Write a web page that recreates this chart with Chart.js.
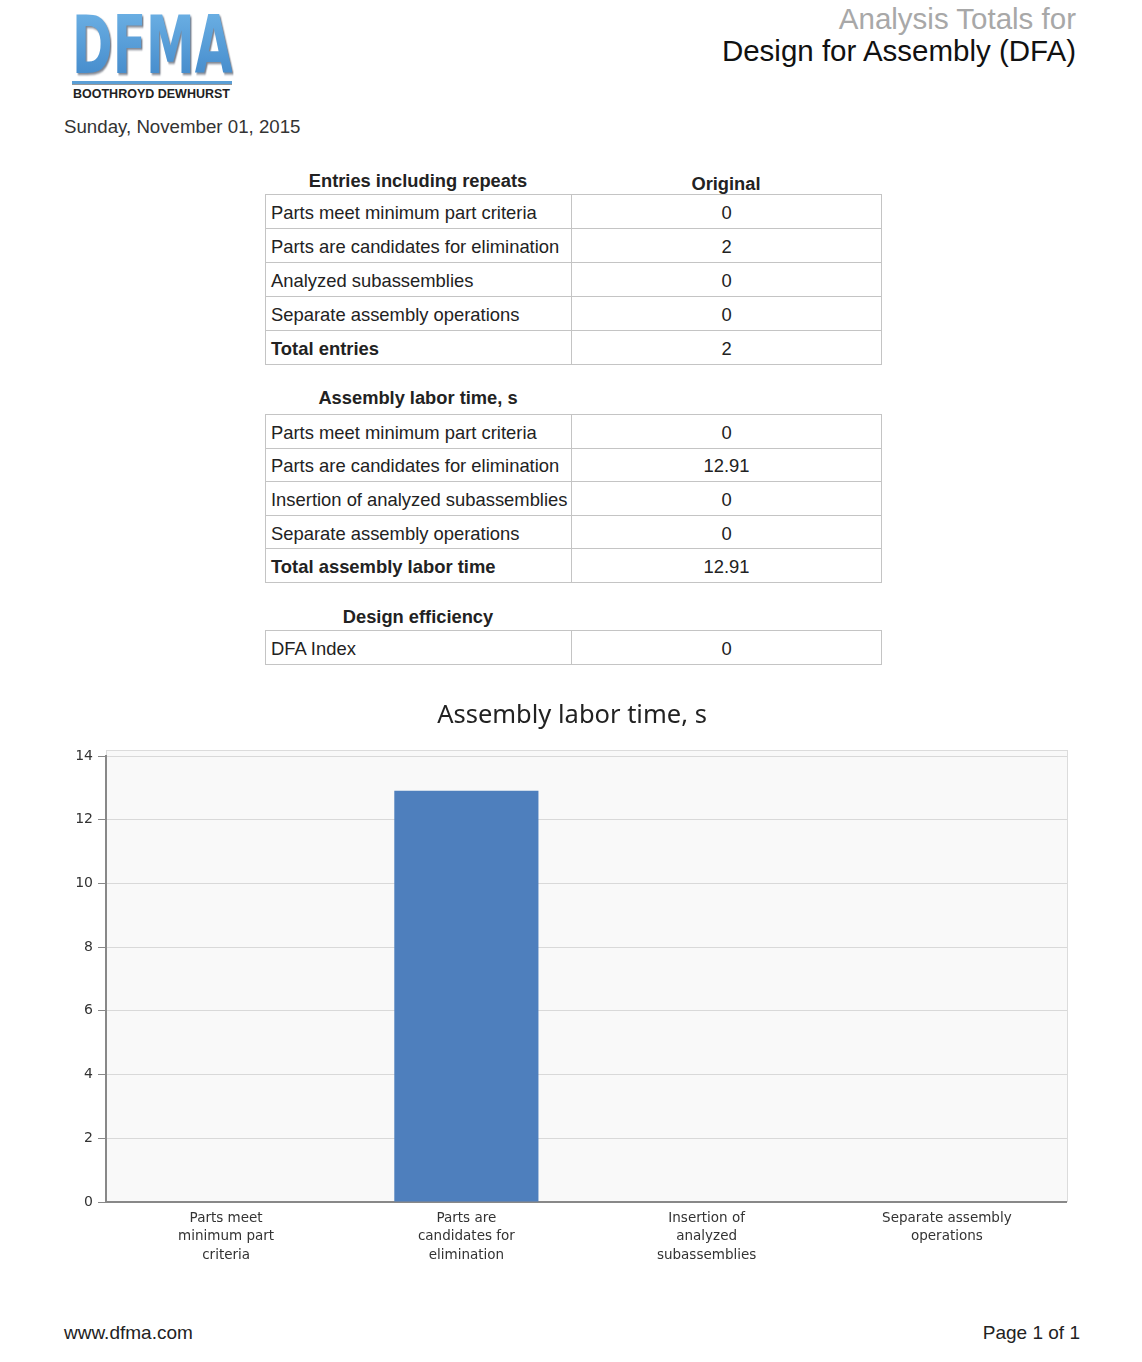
<!DOCTYPE html>
<html>
<head>
  <title>Analysis Totals for Design for Assembly (DFA)</title>
  <script src="https://cdn.jsdelivr.net/npm/chart.js"></script>
  <style>
    body { margin: 0; width: 1142px; height: 1362px; background: #fff; position: relative; overflow: hidden;
           font-family: "Liberation Sans", Arial, sans-serif; color: #222; }
    .abs { position: absolute; }
    .logo { left: 72px; top: 4px; font-family: "Liberation Sans Narrow", "DejaVu Sans Condensed", sans-serif;
            font-weight: bold; font-size: 80px; line-height: 84px; transform: scaleX(0.68); transform-origin: left top;
            background: linear-gradient(#6fb3e6, #3f86c8); -webkit-background-clip: text; background-clip: text;
            color: transparent; filter: drop-shadow(2px 2px 1px rgba(40,50,70,0.6)); }
    .logo-line { left: 72px; top: 81px; width: 160px; height: 3px; background: #5b9fd6; border-bottom: 1px solid #999; }
    .logo-sub { left: 73px; top: 86px; font-weight: bold; font-size: 12.5px; line-height: 16px; color: #222; }
    .date { left: 64px; top: 117px; font-size: 18.7px; line-height: 20px; color: #333; }
    .rt { right: 66px; text-align: right; font-size: 29.5px; line-height: 30px; white-space: nowrap; }
    .head { font-weight: bold; font-size: 18.3px; line-height: 22px; text-align: center; color: #222; }
    table { position: absolute; left: 265px; width: 616px; border-collapse: collapse; table-layout: fixed; }
    td { border: 1px solid #c4c4c4; height: 30px; padding: 3px 0 0 5px; font-size: 18.4px; color: #222;
         white-space: nowrap; overflow: visible; }
    #t2 td { height: 29.6px; }
    td.v { text-align: center; padding-left: 0; }
    td.b { font-weight: bold; }
    .plotbg { left: 106px; top: 750px; width: 960px; height: 451px; background: #f9f9f9; border: 1px solid #dcdcdc; border-bottom: none; }
    #chartBox { position: absolute; left: 77px; top: 690px; width: 990px; height: 590px; }
    .foot { top: 1323px; font-size: 19px; line-height: 20px; color: #222; }
  </style>
</head>
<body>
  <div class="abs logo">DFMA</div>
  <div class="abs logo-line"></div>
  <div class="abs logo-sub">BOOTHROYD DEWHURST</div>
  <div class="abs date">Sunday, November 01, 2015</div>
  <div class="abs rt" style="top:4px;color:#a8a8a8;">Analysis Totals for</div>
  <div class="abs rt" style="top:36px;color:#111;">Design for Assembly (DFA)</div>

  <div class="abs head" style="left:265px;width:306px;top:170px;">Entries including repeats</div>
  <div class="abs head" style="left:571px;width:310px;top:173px;">Original</div>
  <table id="t1" style="top:194px;"></table>

  <div class="abs head" style="left:265px;width:306px;top:387px;">Assembly labor time, s</div>
  <table id="t2" style="top:414px;"></table>

  <div class="abs head" style="left:265px;width:306px;top:606px;">Design efficiency</div>
  <table id="t3" style="top:630px;"></table>

  <div class="abs plotbg"></div>
  <div id="chartBox"><canvas id="laborChart"></canvas></div>

  <div class="abs foot" style="left:64px;">www.dfma.com</div>
  <div class="abs foot" style="right:62px;">Page 1 of 1</div>

  <script>
    // Table data
    const entryRows = ['Parts meet minimum part criteria', 'Parts are candidates for elimination',
      'Analyzed subassemblies', 'Separate assembly operations', 'Total entries'];
    const entryValues = ['0', '2', '0', '0', '2'];

    const laborRows = ['Parts meet minimum part criteria', 'Parts are candidates for elimination',
      'Insertion of analyzed subassemblies', 'Separate assembly operations', 'Total assembly labor time'];
    const laborValues = ['0', '12.91', '0', '0', '12.91'];

    const effRows = ['DFA Index'];
    const effValues = ['0'];

    // Chart data
    const chartLabels = [
      ['Parts meet', 'minimum part', 'criteria'],
      ['Parts are', 'candidates for', 'elimination'],
      ['Insertion of', 'analyzed', 'subassemblies'],
      ['Separate assembly', 'operations']
    ];
    const laborTimes = [0, 12.91, 0, 0];
    const yTicks = [0, 2, 4, 6, 8, 10, 12, 14];

    // Fill a table, last row bold if it is a total
    function fillTable(id, rows, values, boldLast) {
      const t = document.getElementById(id);
      let html = '<colgroup><col style="width:306px"><col style="width:310px"></colgroup>';
      rows.forEach((r, i) => {
        const b = boldLast && i === rows.length - 1 ? ' b' : '';
        html += '<tr><td class="' + b + '">' + r + '</td><td class="v">' + values[i] + '</td></tr>';
      });
      t.innerHTML = html;
    }
    fillTable('t1', entryRows, entryValues, true);
    fillTable('t2', laborRows, laborValues, true);
    fillTable('t3', effRows, effValues, false);

    new Chart(document.getElementById('laborChart'), {
      type: 'bar',
      data: {
        labels: chartLabels,
        datasets: [{
          data: laborTimes,
          backgroundColor: '#4e7fbd',
          borderWidth: 0,
          barPercentage: 0.6,
          categoryPercentage: 1.0
        }]
      },
      options: {
        responsive: true,
        maintainAspectRatio: false,
        animation: false,
        layout: { padding: 0 },
        plugins: {
          legend: { display: false },
          tooltip: { enabled: false },
          title: {
            display: true,
            text: 'Assembly labor time, s',
            color: '#222',
            font: { family: 'Noto Sans', size: 25.5, weight: 'normal' },
            padding: { top: 10.7, bottom: 24.7 }
          }
        },
        scales: {
          x: {
            grid: { display: false, drawTicks: false },
            border: { color: '#888', width: 2 },
            ticks: { color: '#333', font: { family: 'DejaVu Sans', size: 13.5, lineHeight: 1.35 },
                     padding: 7.5, maxRotation: 0, autoSkip: false },
            afterFit: s => { s.height = 78; }
          },
          y: {
            min: 0,
            max: 14,
            afterBuildTicks: s => { s.ticks = yTicks.map(v => ({ value: v })); },
            grid: { color: '#d9d9d9', tickColor: '#888', tickLength: 8, lineWidth: 1 },
            border: { color: '#888', width: 2 },
            ticks: { color: '#333', font: { family: 'DejaVu Sans', size: 14 }, padding: 5 },
            afterFit: s => { s.width = 29; }
          }
        }
      }
    });
  </script>
</body>
</html>
